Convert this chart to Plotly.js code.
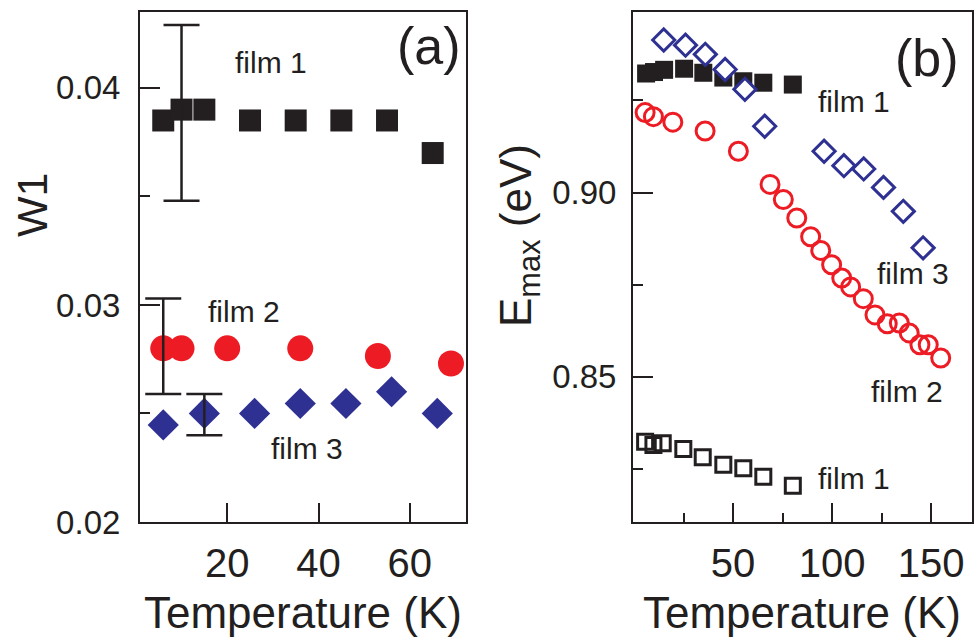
<!DOCTYPE html>
<html><head><meta charset="utf-8">
<script src="https://cdn.plot.ly/plotly-3.0.1.min.js"></script>
<style>html,body{margin:0;padding:0;background:#fff}#chart{width:976px;height:640px}</style>
</head><body><div id="chart"></div>
<script>
// ---- Panel (a): W1 vs Temperature ----
const aFilm1T = [6, 10, 15, 25, 35, 45, 55, 65];
const aFilm1W = [0.0385, 0.0390, 0.0390, 0.0385, 0.0385, 0.0385, 0.0385, 0.0370];
const aFilm2T = [6, 10, 20, 36, 53, 69];
const aFilm2W = [0.0280, 0.0280, 0.0280, 0.0280, 0.02765, 0.0273];
const aFilm3T = [6, 15, 26, 36, 46, 56, 66];
const aFilm3W = [0.02447, 0.0250, 0.0250, 0.02546, 0.02546, 0.0260, 0.0250];
const aErrT = [10, 6, 15];
const aErrW = [0.0390, 0.0280, 0.0250];
const aErrPlus = [0.0039, 0.0023, 0.0009];
const aErrMinus = [0.0042, 0.0021, 0.0010];

// ---- Panel (b): Emax vs Temperature ----
const bFilm1FilledT = [6.1, 10.1, 15.2, 25.3, 35.0, 45.1, 55.2, 65.3, 80.2];
const bFilm1FilledE = [0.9323, 0.9327, 0.9333, 0.9336, 0.9325, 0.9312, 0.9302, 0.9298, 0.9293];
const bFilm3T = [15, 26, 36, 46, 56, 66, 96, 106, 116, 126, 136, 146];
const bFilm3E = [0.9414, 0.9400, 0.9375, 0.9334, 0.9280, 0.9180, 0.9112, 0.9073, 0.9064, 0.9014, 0.8949, 0.8850];
const bFilm2T = [5.6, 9.8, 19.6, 35.9, 52.7, 68.7, 75.4, 82.2, 89.2, 94.3, 99.8, 104.9, 109.4, 115.8, 121.7, 127.9, 134.0, 139.0, 144.4, 148.6, 154.9];
const bFilm2E = [0.9217, 0.9206, 0.9191, 0.9167, 0.9112, 0.9022, 0.8981, 0.8931, 0.8880, 0.8843, 0.8804, 0.8768, 0.8744, 0.8712, 0.8668, 0.8644, 0.8646, 0.8619, 0.8587, 0.8587, 0.8551];
const bFilm1OpenT = [5.6, 9.8, 14.5, 24.9, 34.7, 45.1, 55.2, 65.3, 80.2];
const bFilm1OpenE = [0.8324, 0.8315, 0.8320, 0.8304, 0.8282, 0.8261, 0.8252, 0.8229, 0.8204];

// tick labels
const aXTicks = [20, 40, 60];
const aYTicks = [0.02, 0.03, 0.04];
const aYMinor = [0.025, 0.035];
const bXTicks = [50, 100, 150];
const bXMinor = [25, 75, 125];
const bYTicks = [0.85, 0.90];
const bYMinor = [0.825, 0.875, 0.925];

const K = '#231f20', RED = '#ed1c24', BLUE = '#2e3192';
const FONT = 'Liberation Sans, Arial, sans-serif';

const traces = [
  {x: aFilm1T, y: aFilm1W, xaxis: 'x', yaxis: 'y', mode: 'markers', type: 'scatter',
   marker: {symbol: 'square', size: 22, color: K}},
  {x: aFilm2T, y: aFilm2W, xaxis: 'x', yaxis: 'y', mode: 'markers', type: 'scatter',
   marker: {symbol: 'circle', size: 26, color: RED}},
  {x: aFilm3T, y: aFilm3W, xaxis: 'x', yaxis: 'y', mode: 'markers', type: 'scatter',
   marker: {symbol: 'diamond', size: 24, color: BLUE}},
  {x: aErrT, y: aErrW, xaxis: 'x', yaxis: 'y', mode: 'markers', type: 'scatter',
   marker: {size: 1, opacity: 0},
   error_y: {type: 'data', symmetric: false, array: aErrPlus, arrayminus: aErrMinus,
             color: K, thickness: 2.5, width: 18}},
  {x: bFilm1FilledT, y: bFilm1FilledE, xaxis: 'x2', yaxis: 'y2', mode: 'markers', type: 'scatter',
   marker: {symbol: 'square', size: 18, color: K}},
  {x: bFilm3T, y: bFilm3E, xaxis: 'x2', yaxis: 'y2', mode: 'markers', type: 'scatter',
   marker: {symbol: 'diamond', size: 17, color: 'white', line: {color: BLUE, width: 3}}},
  {x: bFilm2T, y: bFilm2E, xaxis: 'x2', yaxis: 'y2', mode: 'markers', type: 'scatter',
   marker: {symbol: 'circle-open', size: 18, color: RED, line: {color: RED, width: 3}}},
  {x: bFilm1OpenT, y: bFilm1OpenE, xaxis: 'x2', yaxis: 'y2', mode: 'markers', type: 'scatter',
   marker: {symbol: 'square-open', size: 15, color: K, line: {color: K, width: 3}}}
];

function axisBase() {
  return {showline: true, linecolor: K, linewidth: 2, mirror: true, showgrid: false, zeroline: false,
          ticks: 'inside', tickcolor: K, tickwidth: 2, ticklen: 19, tickmode: 'array'};
}

function txt(text, xref, yref, x, y, size, angle) {
  return {text: text, xref: xref, yref: yref, x: x, y: y, showarrow: false,
          xanchor: 'center', yanchor: 'middle', textangle: angle || 0,
          font: {size: size, color: K, family: FONT}};
}

const layout = {
  width: 976, height: 640, margin: {l: 0, r: 0, t: 0, b: 0},
  paper_bgcolor: 'white', plot_bgcolor: 'white', showlegend: false,
  font: {family: FONT, color: K},
  xaxis: Object.assign(axisBase(), {domain: [0.1434, 0.4775], range: [0.9, 72.3], anchor: 'y',
    tickvals: aXTicks, ticklabelstandoff: 5, tickfont: {size: 40, color: K}}),
  yaxis: Object.assign(axisBase(), {domain: [0.1844, 0.9813], range: [0.02, 0.0435], anchor: 'x',
    tickvals: aYTicks, tickformat: '.2f', ticklen: 20, ticklabelstandoff: 11, tickfont: {size: 33, color: K},
    minor: {tickmode: 'array', tickvals: aYMinor, ticks: 'inside', ticklen: 10, tickwidth: 2, tickcolor: K, showgrid: false}}),
  xaxis2: Object.assign(axisBase(), {domain: [0.6486, 0.9959], range: [-0.5, 170.7], anchor: 'y2',
    tickvals: bXTicks, ticklabelstandoff: 5, tickfont: {size: 40, color: K},
    minor: {tickmode: 'array', tickvals: bXMinor, ticks: 'inside', ticklen: 9, tickwidth: 2, tickcolor: K, showgrid: false}}),
  yaxis2: Object.assign(axisBase(), {domain: [0.1844, 0.9813], range: [0.8106, 0.949], anchor: 'x2',
    tickvals: bYTicks, tickformat: '.2f', ticklen: 20, ticklabelstandoff: 8, tickfont: {size: 33, color: K},
    minor: {tickmode: 'array', tickvals: bYMinor, ticks: 'inside', ticklen: 10, tickwidth: 2, tickcolor: K, showgrid: false}}),
  annotations: [
    txt('(a)', 'x', 'y', 64.2, 0.04195, 52),
    txt('film 1', 'x', 'y', 29.5, 0.04118, 30),
    txt('film 2', 'x', 'y', 23.6, 0.02970, 30),
    txt('film 3', 'x', 'y', 37.5, 0.02340, 30),
    txt('(b)', 'x2', 'y2', 148.2, 0.9366, 52),
    txt('film 1', 'x2', 'y2', 111.1, 0.9247, 30),
    txt('film 3', 'x2', 'y2', 140.7, 0.8780, 30),
    txt('film 2', 'x2', 'y2', 138.1, 0.8459, 30),
    txt('film 1', 'x2', 'y2', 111.1, 0.8223, 30),
    txt('Temperature (K)', 'paper', 'paper', 0.3105, 1 - 612/640, 44),
    txt('Temperature (K)', 'paper', 'paper', 0.8222, 1 - 612/640, 44),
    txt('W1', 'paper', 'paper', 32/976, 1 - 205/640, 43, -90),
    txt('E<sub>max</sub> (eV)', 'paper', 'paper', 519/976, 1 - 236/640, 44, -90)
  ]
};

Plotly.newPlot('chart', traces, layout, {displayModeBar: false, staticPlot: true});
</script>
</body></html>
